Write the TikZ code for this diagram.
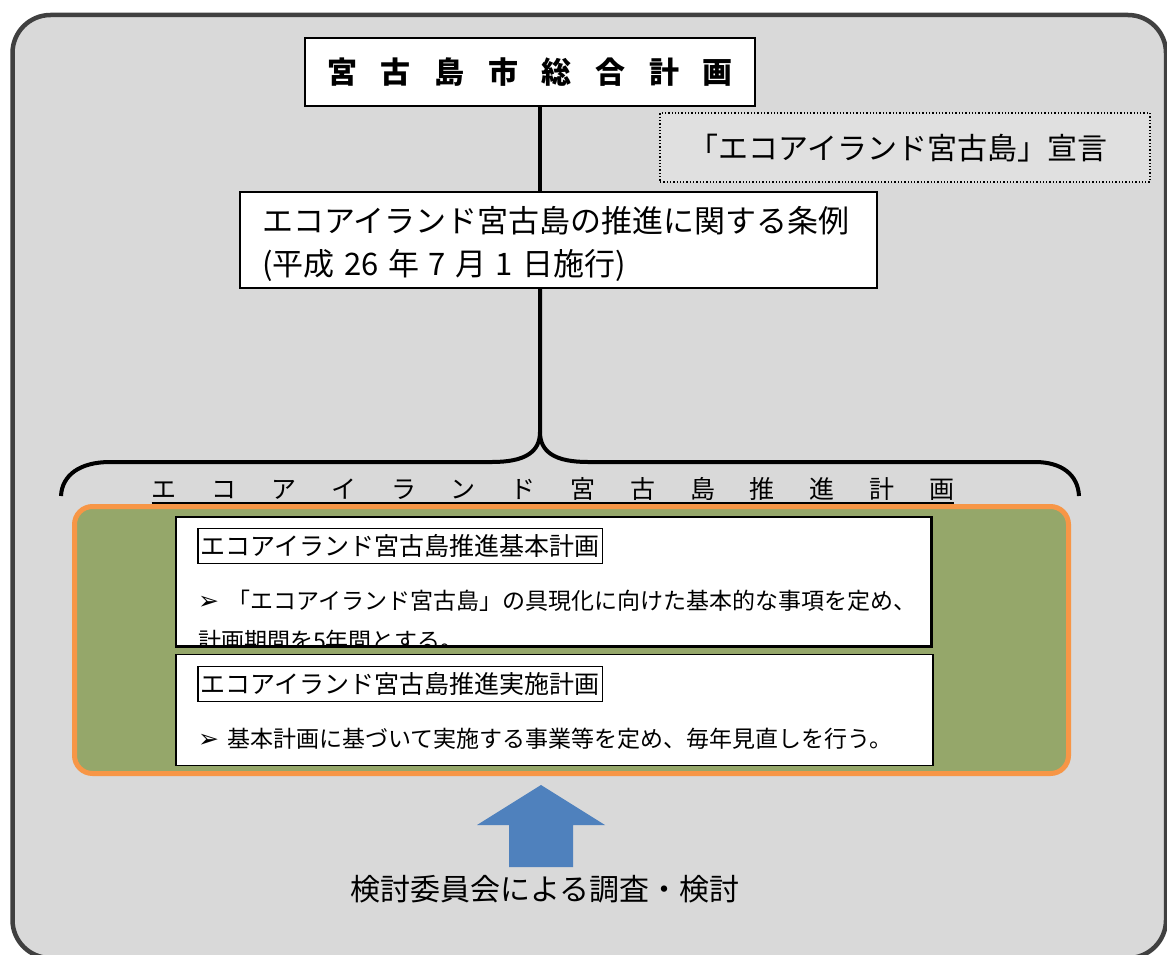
\documentclass[tikz,border=0pt]{standalone}
\usepackage{fontspec}
\setmainfont{Noto Sans CJK JP}
\newfontfamily\symf{DejaVu Sans}
\usetikzlibrary{calc}
\definecolor{bggray}{RGB}{217,217,217}
\definecolor{framegray}{RGB}{64,64,64}
\definecolor{olivefill}{RGB}{149,167,106}
\definecolor{orangeb}{RGB}{247,150,70}
\definecolor{bluearrow}{RGB}{79,129,189}
\definecolor{dotfill}{RGB}{224,224,224}
\newcommand{\gapT}{\hspace{23.6pt}}
\newcommand{\gapB}{\hspace{34.8pt}}
\newcommand{\gapO}{\hspace{9.5pt}}
\newcommand{\bul}{{\symf\fontsize{25}{26}\selectfont ➢}\hspace{8pt}}
\begin{document}
\begin{tikzpicture}[x=1pt,y=-1pt,
  box/.style={draw=black, line width=1.5pt, fill=white, inner sep=0pt},
  conn/.style={line width=4pt, draw=black},
  labelbox/.style={draw=black, line width=1.5pt, fill=white, anchor=west, inner xsep=3pt, inner ysep=0pt, minimum height=35pt, font=\fontsize{25}{27}\selectfont},
  bodytext/.style={anchor=west, inner sep=0pt, align=left, font=\fontsize{23}{40}\selectfont}]
\useasboundingbox (0,0) rectangle (1167,955);
\draw[line width=4.5pt, draw=framegray, fill=bggray, rounded corners=38pt] (12.5,15) rectangle (1166,958);

% top boxes
\node[box, minimum width=450pt, minimum height=68pt, font=\bfseries\fontsize{30}{32}\selectfont] (title) at (530,72)
  {宮\gapT 古\gapT 島\gapT 市\gapT 総\gapT 合\gapT 計\gapT 画};
\node[draw=black, dotted, line width=1.3pt, fill=dotfill, minimum width=490pt, minimum height=69pt, inner sep=0pt] (decl) at (905,147.5) {};
\node[inner sep=0pt, font=\fontsize{30}{32}\selectfont] (decltext) at (898,148) {「エコアイランド宮古島」宣言};
\node[box, minimum width=637pt, minimum height=96pt] (ord) at (558.5,240) {};
\node[anchor=west, inner sep=0pt, align=left, font=\fontsize{31}{43}\selectfont] (ordtext) at (262,244)
  {エコアイランド宮古島の推進に関する条例\\(平成\gapO 26\gapO 年\gapO 7\gapO 月\gapO 1\gapO 日施行)};

% connectors and brace
\coordinate (cusp) at (540,432);
\draw[conn] (title.south -| cusp) -- (ord.north -| cusp);
\draw[conn] (ord.south -| cusp) -- (cusp)
  .. controls (540,452) and (525,462) .. (492,462) -- (110,462)
  .. controls (80,462) and (62,475) .. (61,496);
\draw[conn] (cusp)
  .. controls (540,452) and (555,462) .. (588,462) -- (1035,462)
  .. controls (1062,462) and (1078,475) .. (1079,496);

% plan title
\node[inner sep=0pt, font=\fontsize{25}{27}\selectfont] (plan) at (553,489)
  {エ\gapB コ\gapB ア\gapB イ\gapB ラ\gapB ン\gapB ド\gapB 宮\gapB 古\gapB 島\gapB 推\gapB 進\gapB 計\gapB 画};
\coordinate (ul) at (0,503);
\draw[line width=1.3pt] (plan.west |- ul) -- (plan.east |- ul);

% green container
\node[draw=orangeb, line width=5pt, fill=olivefill, rounded corners=18pt, minimum width=994pt, minimum height=267pt, inner sep=0pt] (plans) at (571.5,640) {};

% basic plan
\node[box, minimum width=755pt, minimum height=129pt] (basic) at (553.5,581.5) {};
\begin{scope}
\clip (basic.south west) rectangle (basic.north east);
\node[bodytext] (basictext) at (198,621)
  {\bul 「エコアイランド宮古島」の具現化に向けた基本的な事項を定め、\\計画期間を5年間とする。};
\end{scope}
\draw[line width=1.5pt] (basic.south west) rectangle (basic.north east);
\node[labelbox] (basiclabel) at (197,546) {エコアイランド宮古島推進基本計画};

% implementation plan
\node[box, minimum width=757pt, minimum height=111pt] (impl) at (554.5,710) {};
\node[labelbox] (impllabel) at (197,684) {エコアイランド宮古島推進実施計画};
\node[bodytext] (impltext) at (198,739)
  {\bul 基本計画に基づいて実施する事業等を定め、毎年見直しを行う。};

% arrow and review
\node[inner sep=0pt, font=\fontsize{30}{32}\selectfont] (review) at (545,889) {検討委員会による調査・検討};
\fill[bluearrow] (477,825) -- (541,785) -- (605,825) -- (573,825) -- (573,867) -- (509,867) -- (509,825) -- cycle;
\end{tikzpicture}
\end{document}
